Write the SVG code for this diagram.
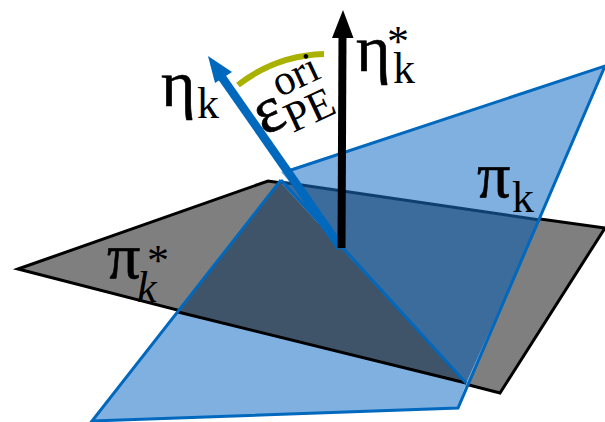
<svg xmlns="http://www.w3.org/2000/svg" width="605" height="422" viewBox="0 0 605 422">
<style>
text{font-family:"Liberation Serif","DejaVu Serif",serif;fill:#000}
.sym{font-size:66px;stroke:#000;stroke-width:.6}
.sub{font-size:44px}
.edge{fill:none;stroke:#0068bd;stroke-width:3;stroke-linejoin:miter}
</style>
<rect width="605" height="422" fill="#fff"/>
<g id="plane-pi-star">
<polygon points="18,269 268,181 605,228 500,393" fill="#7f7f7f" stroke="#000" stroke-width="3"/>
</g>
<g id="plane-pi">
<polygon points="92,421 281,181 466,383 458,408" fill="#7fb0df"/>
<polygon points="281,172 605,66 458,408 466,383" fill="#7fb0df"/>
<polygon points="178,312 280,182 466,383" fill="#3f5468"/>
<polygon points="280,182 540,220 466,383" fill="#3b6c9c"/>
<line x1="178" y1="312" x2="466" y2="383" stroke="#000" stroke-width="3"/>
<line x1="281" y1="182" x2="540" y2="220" stroke="#0f3f6e" stroke-width="3"/>
<path class="edge" d="M281,180 L92,421 L458,408 L605,66 L285,172"/>
<line class="edge" x1="281" y1="180" x2="466" y2="383"/>
</g>
<g id="connectors">
<path d="M238,85 C265,64 293,55 324,54" fill="none" stroke="#a9b200" stroke-width="6"/>
<line x1="341" y1="248" x2="221" y2="76" stroke="#0068bd" stroke-width="8.500"/>
<polygon points="208,56 232,72 215,83" fill="#0068bd"/>
<line x1="341.5" y1="248" x2="342.5" y2="35" stroke="#000" stroke-width="8"/>
<polygon points="343,10 353.500,38 332,38" fill="#000"/>
</g>
<g id="label-eta"><text class="sym" x="161" y="106">η</text><text class="sub" x="197" y="118">k</text></g>
<g id="label-eta-star"><text class="sym" x="356" y="71">η</text><text class="sub" x="393" y="83">k</text><text class="sub" x="387" y="56">*</text></g>
<g id="label-eps" transform="rotate(-25 265 133)"><text class="sym" x="263" y="135">ε</text><text x="290" y="145" font-size="43">PE</text><text x="293" y="107" font-size="43">ori</text></g>
<g id="label-pi"><text class="sym" x="477" y="197">π</text><text class="sub" x="512" y="212">k</text></g>
<g id="label-pi-star"><text class="sym" x="107" y="278">π</text><text class="sub" x="137" y="302" font-style="italic">k</text><text class="sub" x="147" y="275">*</text></g>
</svg>
